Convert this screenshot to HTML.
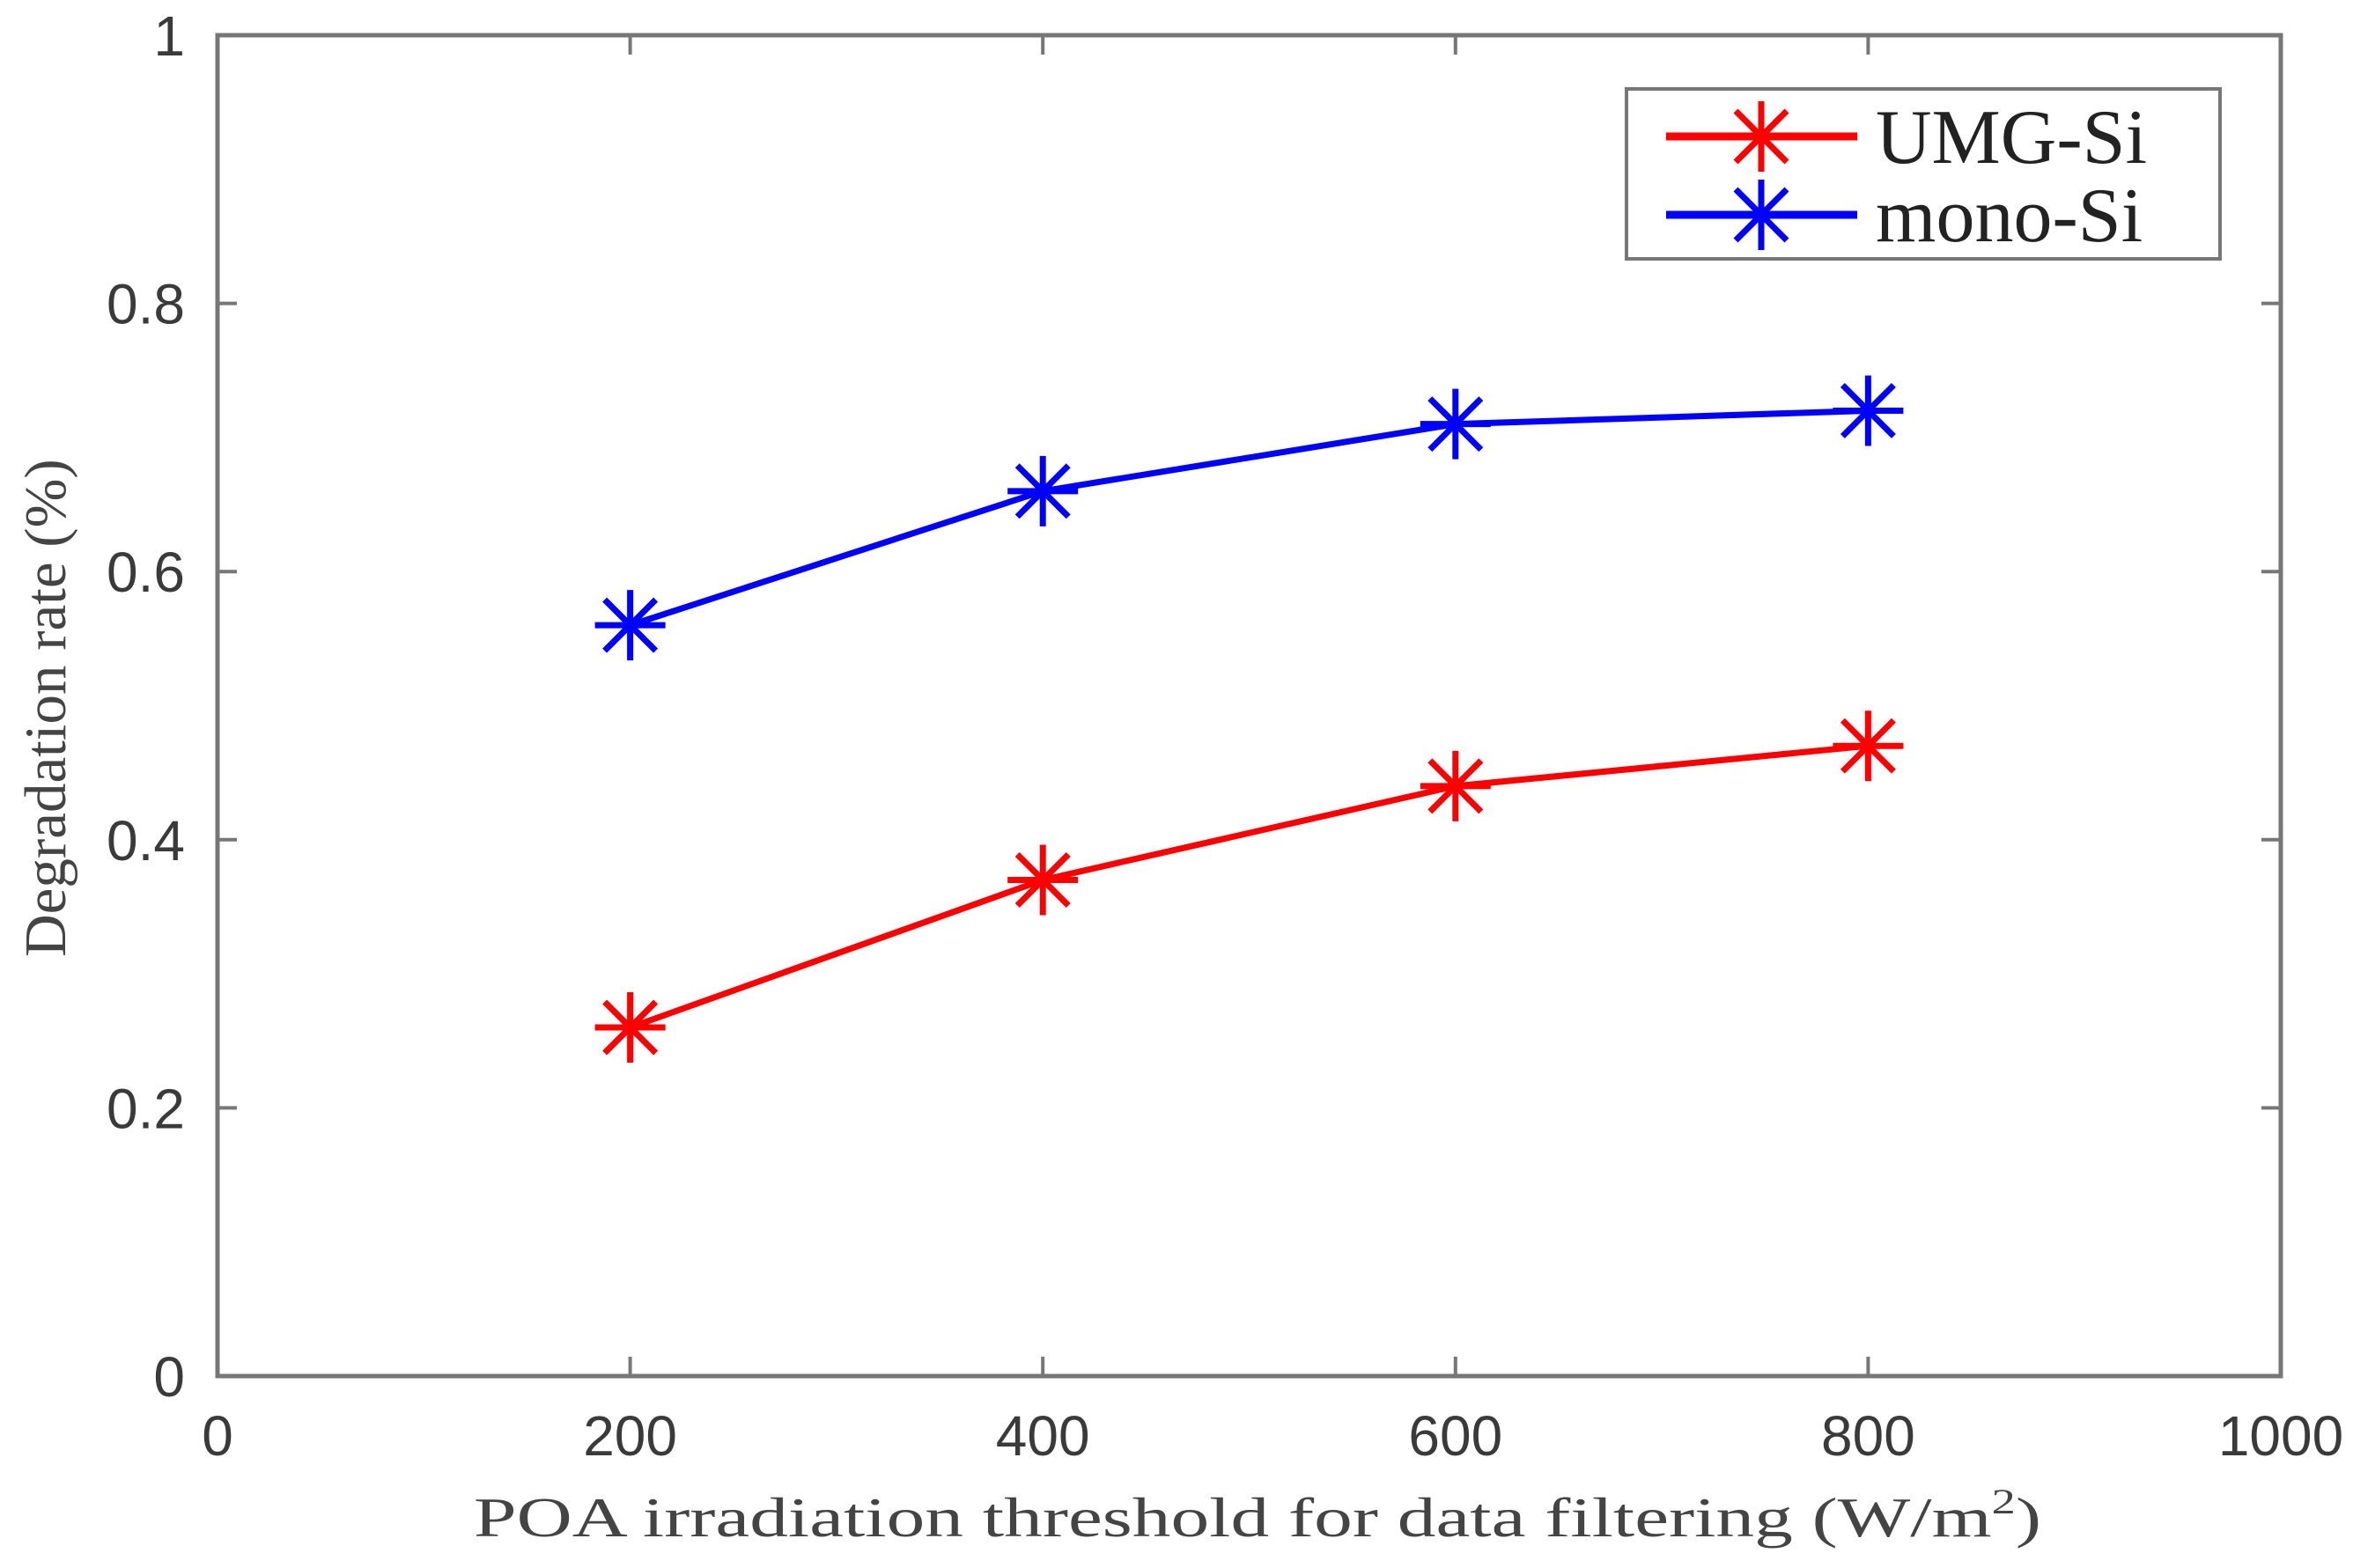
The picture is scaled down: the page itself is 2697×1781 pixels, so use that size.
<!DOCTYPE html>
<html><head><meta charset="utf-8"><style>
html,body{margin:0;padding:0;background:#fff;}
svg{display:block;}
</style></head><body>
<svg id="chart" width="2697" height="1781" viewBox="0 0 2697 1781" xmlns="http://www.w3.org/2000/svg">
<rect x="0" y="0" width="2697" height="1781" fill="#fff"/>
<g id="axes"></g>
<g id="series"></g>
<g id="legend">
  <rect x="1847" y="101" width="674" height="193" fill="#fff" stroke="#777" stroke-width="4"/>
  <line x1="1892" y1="155" x2="2109" y2="155" stroke="#ff0000" stroke-width="9"/>
  <line x1="1892" y1="244" x2="2109" y2="244" stroke="#0000ff" stroke-width="9"/>
  <text x="2130" y="185" font-family="Liberation Serif, serif" font-size="88" fill="#222">UMG-Si</text>
  <text x="2130" y="274" font-family="Liberation Serif, serif" font-size="88" fill="#222">mono-Si</text>
</g>
<text x="1428" y="1745" text-anchor="middle" font-family="Liberation Serif, serif" font-size="64" fill="#444" textLength="1780" lengthAdjust="spacingAndGlyphs">POA irradiation threshold for data filtering  (W/m<tspan font-size="40" dy="-26">2</tspan><tspan dy="26">)</tspan></text>
<text transform="translate(74,804) rotate(-90)" text-anchor="middle" font-family="Liberation Serif, serif" font-size="67" fill="#444">Degradation rate (%)</text>
</svg>
<script>
const xTicks = [0, 200, 400, 600, 800, 1000];
const yTicks = [0, 0.2, 0.4, 0.6, 0.8, 1];
const yTickLabels = ['0', '0.2', '0.4', '0.6', '0.8', '1'];
const categories = [200, 400, 600, 800];
const umgValues = [0.26, 0.37, 0.44, 0.47];
const monoValues = [0.56, 0.66, 0.71, 0.72];

const L = 247, R = 2590, T = 40, B = 1563;
function xs(v){ return L + (v - 0) / 1000 * (R - L); }
function ys(v){ return B - v * (B - T); }
const NS = 'http://www.w3.org/2000/svg';
function mk(tag, attrs, parent){ const e = document.createElementNS(NS, tag); for (const k in attrs) e.setAttribute(k, attrs[k]); parent.appendChild(e); return e; }

const axes = document.getElementById('axes');
const frame = mk('rect', {x:L, y:T, width:R-L, height:B-T, fill:'none', stroke:'#777', 'stroke-width':5}, axes);


xTicks.forEach(function(v){
  const x = xs(v);
  const t1 = mk('line', {x1:x, y1:B, x2:x, y2:B-22, stroke:'#777', 'stroke-width':4}, axes);
  
  
  const t2 = mk('line', {x1:x, y1:T, x2:x, y2:T+22, stroke:'#777', 'stroke-width':4}, axes);
  
  
  const lb = mk('text', {x:x, y:1653, 'text-anchor':'middle', 'font-family':'Liberation Sans, sans-serif', 'font-size':64, fill:'#3a3a3a'}, axes);
  lb.textContent = String(v);
  
  
});
yTicks.forEach(function(v, i){
  const y = ys(v);
  const t1 = mk('line', {x1:L, y1:y, x2:L+22, y2:y, stroke:'#777', 'stroke-width':4}, axes);
  
  
  const t2 = mk('line', {x1:R, y1:y, x2:R-22, y2:y, stroke:'#777', 'stroke-width':4}, axes);
  
  
  const lb = mk('text', {x:210, y:y+23, 'text-anchor':'end', 'font-family':'Liberation Sans, sans-serif', 'font-size':64, fill:'#3a3a3a'}, axes);
  lb.textContent = yTickLabels[i];
  
  
});

function star(parent, cx, cy, color, name){
  const g = mk('g', {stroke:color, 'stroke-width':7}, parent);
  
  
  const r = 40, d = 29;
  mk('line', {x1:cx-r, y1:cy, x2:cx+r, y2:cy}, g);
  mk('line', {x1:cx, y1:cy-r, x2:cx, y2:cy+r}, g);
  mk('line', {x1:cx-d, y1:cy-d, x2:cx+d, y2:cy+d}, g);
  mk('line', {x1:cx-d, y1:cy+d, x2:cx+d, y2:cy-d}, g);
}
const series = document.getElementById('series');
function drawSeries(vals, color, name){
  const pts = categories.map(function(c, i){ return xs(c) + ',' + ys(vals[i]); }).join(' ');
  const pl = mk('polyline', {points:pts, fill:'none', stroke:color, 'stroke-width':7, 'stroke-linejoin':'round'}, series);
  
  
  categories.forEach(function(c, i){ star(series, xs(c), ys(vals[i]), color, name + '-marker'); });
}
drawSeries(umgValues, '#ff0000', 'umg-si');
drawSeries(monoValues, '#0000ff', 'mono-si');
const leg = document.getElementById('legend');
star(leg, 2000, 155, '#ff0000', 'legend-marker-umg');
star(leg, 2000, 244, '#0000ff', 'legend-marker-mono');
</script>
</body></html>
